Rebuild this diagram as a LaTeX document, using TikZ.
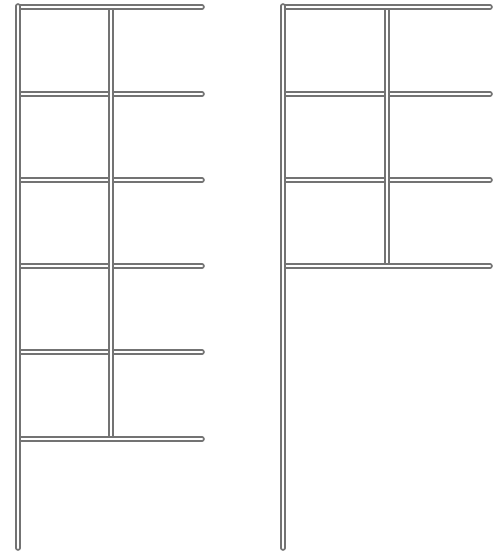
\documentclass[tikz,border=0pt]{standalone}
\begin{document}
\begin{tikzpicture}[x=1pt,y=-1pt,
  rail/.style={draw=black!55,line width=1.7pt,double=white,double distance=2.2pt,line cap=round}]
\useasboundingbox (0,0) rectangle (502,552);
% left frame
\foreach \y in {94,180,266,352}{
  \draw[rail] (20,\y) -- (202,\y);
}
\draw[rail] (111,9) -- (111,437);
\draw[rail] (20,7) -- (202,7);
\draw[rail] (20,439) -- (202,439);
\draw[rail] (18,6) -- (18,548);
% right frame
\foreach \y in {94,180}{
  \draw[rail] (285,\y) -- (490,\y);
}
\draw[rail] (387,9) -- (387,265);
\draw[rail] (285,7) -- (490,7);
\draw[rail] (285,266) -- (490,266);
\draw[rail] (283,6) -- (283,548);
\end{tikzpicture}
\end{document}
